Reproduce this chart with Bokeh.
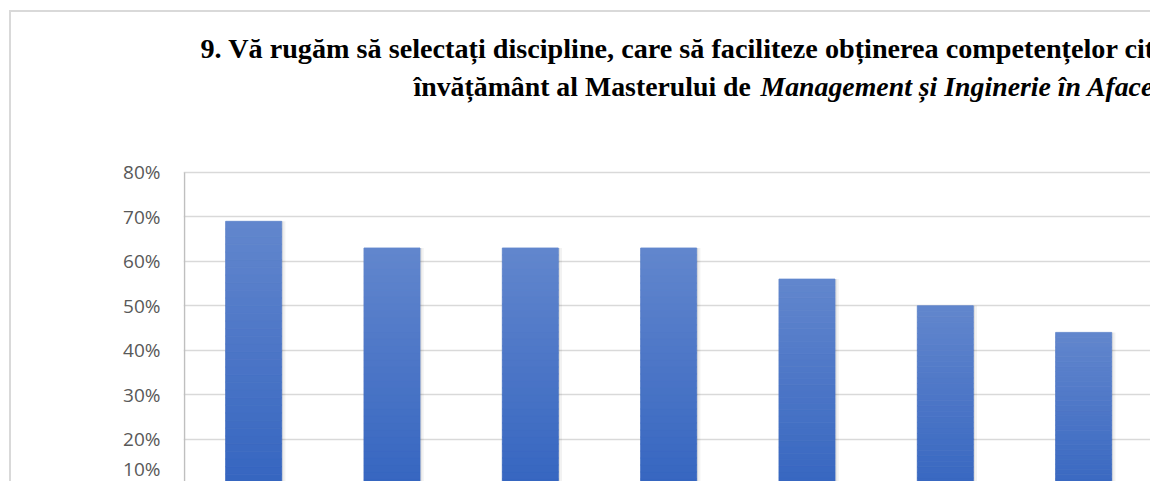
from bokeh.plotting import figure
from bokeh.models import ColumnDataSource, Range1d, FixedTicker, NumeralTickFormatter, Label
from bokeh.embed import file_html
from bokeh.resources import INLINE

# ---- data ----
categories = ["1", "2", "3", "4", "5", "6", "7"]
shares = [0.69, 0.63, 0.63, 0.63, 0.56, 0.50, 0.44]
y_ticks = [0.1, 0.2, 0.3, 0.4, 0.5, 0.6, 0.7, 0.8]
axis_top = 0.8
title_line1 = "9. Vă rugăm să selectați discipline, care să faciliteze obținerea competențelor citate, în planul de"
title_line2_plain = "învățământ al Masterului de "
title_line2_italic = "Management și Inginerie în Afaceri"

# ---- styling / layout ----
ML, MT = 9, 10          # css margin before the chart border
BW = 2                  # border width
W, H = 1152 - ML - BW, 483 - MT - BW
PX_PER_CAT = 138.33
PX_PER_UNIT = 444.3
BAR_W = 0.405
TOP_RGB = (98, 134, 205)
BOT_RGB = (46, 96, 190)
N_SLICES = 40
LEFT = 172              # space for the value axis


def mix(a, b, t):
    return "#%02x%02x%02x" % tuple(int(round(a[i] + (b[i] - a[i]) * t)) for i in range(3))


xs = [i + 0.5 for i in range(len(categories))]

gx, gb, gt, gc = [], [], [], []
for x, v in zip(xs, shares):
    for k in range(N_SLICES):
        gx.append(x)
        gb.append(v * k / N_SLICES)
        gt.append(v * (k + 1) / N_SLICES)
        gc.append(mix(BOT_RGB, TOP_RGB, (k + 0.5) / N_SLICES))
grad = ColumnDataSource(dict(x=gx, bottom=gb, top=gt, color=gc))
src = ColumnDataSource(dict(x=xs, top=shares, xs1=[x + 0.012 for x in xs], xs2=[x + 0.006 for x in xs]))

x0 = -1 / PX_PER_CAT
x1 = x0 + (W - LEFT) / PX_PER_CAT
y0 = 0.0999
y1 = y0 + H / PX_PER_UNIT

p = figure(width=W, height=H, output_backend="svg", toolbar_location=None, title=None,
           x_range=Range1d(x0, x1), y_range=Range1d(y0, y1),
           min_border_left=LEFT, min_border_top=0, min_border_right=0, min_border_bottom=0)
p.styles = {"margin-left": f"{ML}px", "margin-top": f"{MT}px",
            "border-top": f"{BW}px solid #d9d9d9", "border-left": f"{BW}px solid #d9d9d9"}
p.outline_line_color = None
p.background_fill_color = "white"
p.border_fill_color = "white"

# axes
p.xaxis.visible = False
p.xgrid.visible = False
p.yaxis.ticker = FixedTicker(ticks=y_ticks)
p.yaxis.formatter = NumeralTickFormatter(format="0%")
p.yaxis.major_tick_line_color = None
p.yaxis.minor_tick_line_color = None
p.yaxis.major_tick_out = 0
p.yaxis.major_label_standoff = 23
p.yaxis.axis_line_color = None
p.yaxis.major_label_text_font = "Open Sans"
p.yaxis.major_label_text_font_size = "19px"
p.yaxis.major_label_text_color = "#595959"
p.ygrid.ticker = FixedTicker(ticks=y_ticks)
p.ygrid.grid_line_color = "#d9d9d9"
p.ygrid.grid_line_width = 1.6

# value axis line (from bottom up to the top tick only)
p.segment(x0=[0], y0=[y0], x1=[0], y1=[axis_top], line_color="#bfbfbf", line_width=1.5)

# soft shadow
p.vbar(x="xs1", top="top", bottom=0, width=BAR_W + 0.03, source=src,
       fill_color="black", fill_alpha=0.05, line_color=None)
p.vbar(x="xs2", top="top", bottom=0, width=BAR_W + 0.012, source=src,
       fill_color="black", fill_alpha=0.08, line_color=None)

# gradient bars
p.vbar(x="x", bottom="bottom", top="top", width=BAR_W, source=grad,
       fill_color="color", line_color="color", line_width=0.8)

# title (two lines, partly italic); page coords -> frame screen coords
ox, oy = ML + BW + LEFT, MT + BW
for txt, px, base, style, size in [(title_line1, 200, 58, "bold", 28.2),
                                   (title_line2_plain, 413, 95, "bold", 27.8),
                                   (title_line2_italic, 760, 95, "bold italic", 27.8)]:
    mid = 0.3375 * size
    p.add_layout(Label(x=px - ox, y=H - (base - mid - oy), x_units="screen", y_units="screen",
                       text=txt, text_font="Liberation Serif", text_font_size=f"{size}px",
                       text_font_style=style, text_color="black",
                       text_baseline="middle", text_align="left"))

open("out.html", "w").write(file_html(p, INLINE))
